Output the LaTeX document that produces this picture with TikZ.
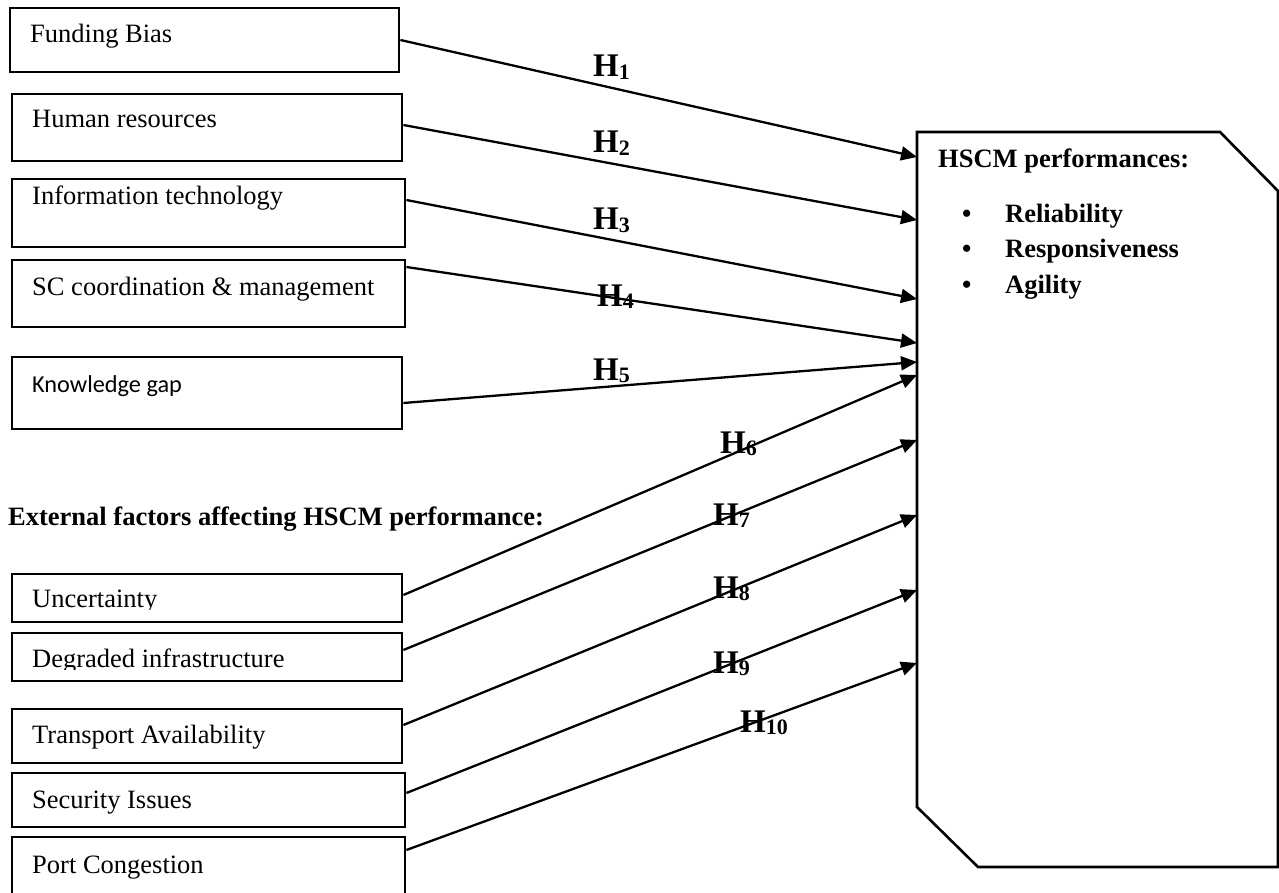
\documentclass[tikz,border=0pt]{standalone}
\usepackage{fontspec}
\setmainfont{Liberation Serif}
\newfontfamily\calibrifont{Carlito}
\usetikzlibrary{arrows.meta}
\begin{document}
\begin{tikzpicture}[x=1pt,y=-1pt,
  box/.style={draw, line width=2.4pt, inner sep=0pt, anchor=north west},
  lbl/.style={anchor=base west, inner sep=0pt, font=\fontsize{26.5}{30}\selectfont},
  kglbl/.style={anchor=base west, inner sep=0pt, font=\fontsize{24.3}{28}\selectfont\calibrifont},
  bold/.style={anchor=base west, inner sep=0pt, font=\fontsize{26.5}{30}\selectfont\bfseries},
  hyp/.style={anchor=base west, inner sep=0pt, font=\fontsize{33}{36}\selectfont\bfseries},
  arr/.style={line width=2.3pt, -{Triangle[length=16pt,width=14pt]}}]
\useasboundingbox (0,0) rectangle (1279,893);
\clip (0,0) rectangle (1279,893);
\fill[white] (0,0) rectangle (1279,893);
\newcommand\sbs[1]{\raisebox{-2.5pt}{\fontsize{22}{22}\selectfont #1}}

% left boxes
\node[box, minimum width=389pt, minimum height=64pt] (fb) at (9,7) {};
\node[box, minimum width=390pt, minimum height=67pt] (hr) at (11,93) {};
\node[box, minimum width=393pt, minimum height=68pt] (it) at (11,178) {};
\node[box, minimum width=393pt, minimum height=67pt] (sc) at (11,259) {};
\node[box, minimum width=390pt, minimum height=72pt] (kg) at (11,356) {};
\node[box, minimum width=390pt, minimum height=48pt] (un) at (11,573) {};
\node[box, minimum width=390pt, minimum height=48pt] (di) at (11,632) {};
\node[box, minimum width=390pt, minimum height=54pt] (ta) at (11,708) {};
\node[box, minimum width=393pt, minimum height=54pt] (si) at (11,772) {};
\node[box, minimum width=393pt, minimum height=70pt] (pc) at (11,836) {};

\node[lbl] (tfb) at (30,43) {Funding Bias};
\node[lbl] (thr) at (32,128) {Human resources};
\node[lbl] (tit) at (32,205) {Information technology};
\node[lbl] (tsc) at (32,295) {SC coordination \& management};
\node[kglbl] (tkg) at (32,392) {Knowledge gap};
\begin{scope}
  \clip (11,573) rectangle (401,609);
  \node[lbl] (tun) at (32,607) {Uncertainty};
\end{scope}
\begin{scope}
  \clip (11,632) rectangle (401,669);
  \node[lbl] (tdi) at (32,667) {Degraded infrastructure};
\end{scope}
\node[lbl] (tta) at (32,743) {Transport Availability};
\node[lbl] (tsi) at (32,808) {Security Issues};
\node[lbl] (tpc) at (32,873) {Port Congestion};

\node[bold] (ext) at (8,525) {External factors affecting HSCM performance:};

% HSCM box
\node[inner sep=0pt, minimum width=361pt, minimum height=735pt, anchor=north west] (hscm) at (917,132) {};
\draw[line width=2.6pt] (917,132) -- (1220,132) -- (1278,191) -- (1278,867) -- (978,867) -- (917,807) -- cycle;
\node[bold] (ht) at (938,168) {HSCM performances:};
\node[bold] (b1) at (962,223) {•};
\node[bold] (b2) at (962,258) {•};
\node[bold] (b3) at (962,293) {•};
\node[bold] (i1) at (1005,223) {Reliability};
\node[bold] (i2) at (1005,258) {Responsiveness};
\node[bold] (i3) at (1005,293) {Agility};

% hypothesis labels
\node[hyp] (h1) at (593,77) {H\sbs{1}};
\node[hyp] (h2) at (593,153) {H\sbs{2}};
\node[hyp] (h3) at (593,230) {H\sbs{3}};
\node[hyp] (h4) at (597,306) {H\sbs{4}};
\node[hyp] (h5) at (593,380) {H\sbs{5}};
\node[hyp] (h6) at (720,453) {H\sbs{6}};
\node[hyp] (h7) at (713,525) {H\sbs{7}};
\node[hyp] (h8) at (713,598) {H\sbs{8}};
\node[hyp] (h9) at (713,673) {H\sbs{9}};
\node[hyp] (h10) at (740,732) {H\sbs{10}};

% arrows
\draw[arr] (fb.east |- 0,40) -- (hscm.west |- 0,157);
\draw[arr] (hr.east |- 0,125) -- (hscm.west |- 0,220);
\draw[arr] (it.east |- 0,200) -- (hscm.west |- 0,299);
\draw[arr] (sc.east |- 0,267) -- (hscm.west |- 0,343);
\draw[arr] (kg.east |- 0,403) -- (hscm.west |- 0,362);
\draw[arr] (un.east |- 0,595) -- (hscm.west |- 0,375);
\draw[arr] (di.east |- 0,650) -- (hscm.west |- 0,440);
\draw[arr] (ta.east |- 0,725) -- (hscm.west |- 0,515);
\draw[arr] (si.east |- 0,793) -- (hscm.west |- 0,590);
\draw[arr] (pc.east |- 0,850) -- (hscm.west |- 0,663);
\end{tikzpicture}
\end{document}
